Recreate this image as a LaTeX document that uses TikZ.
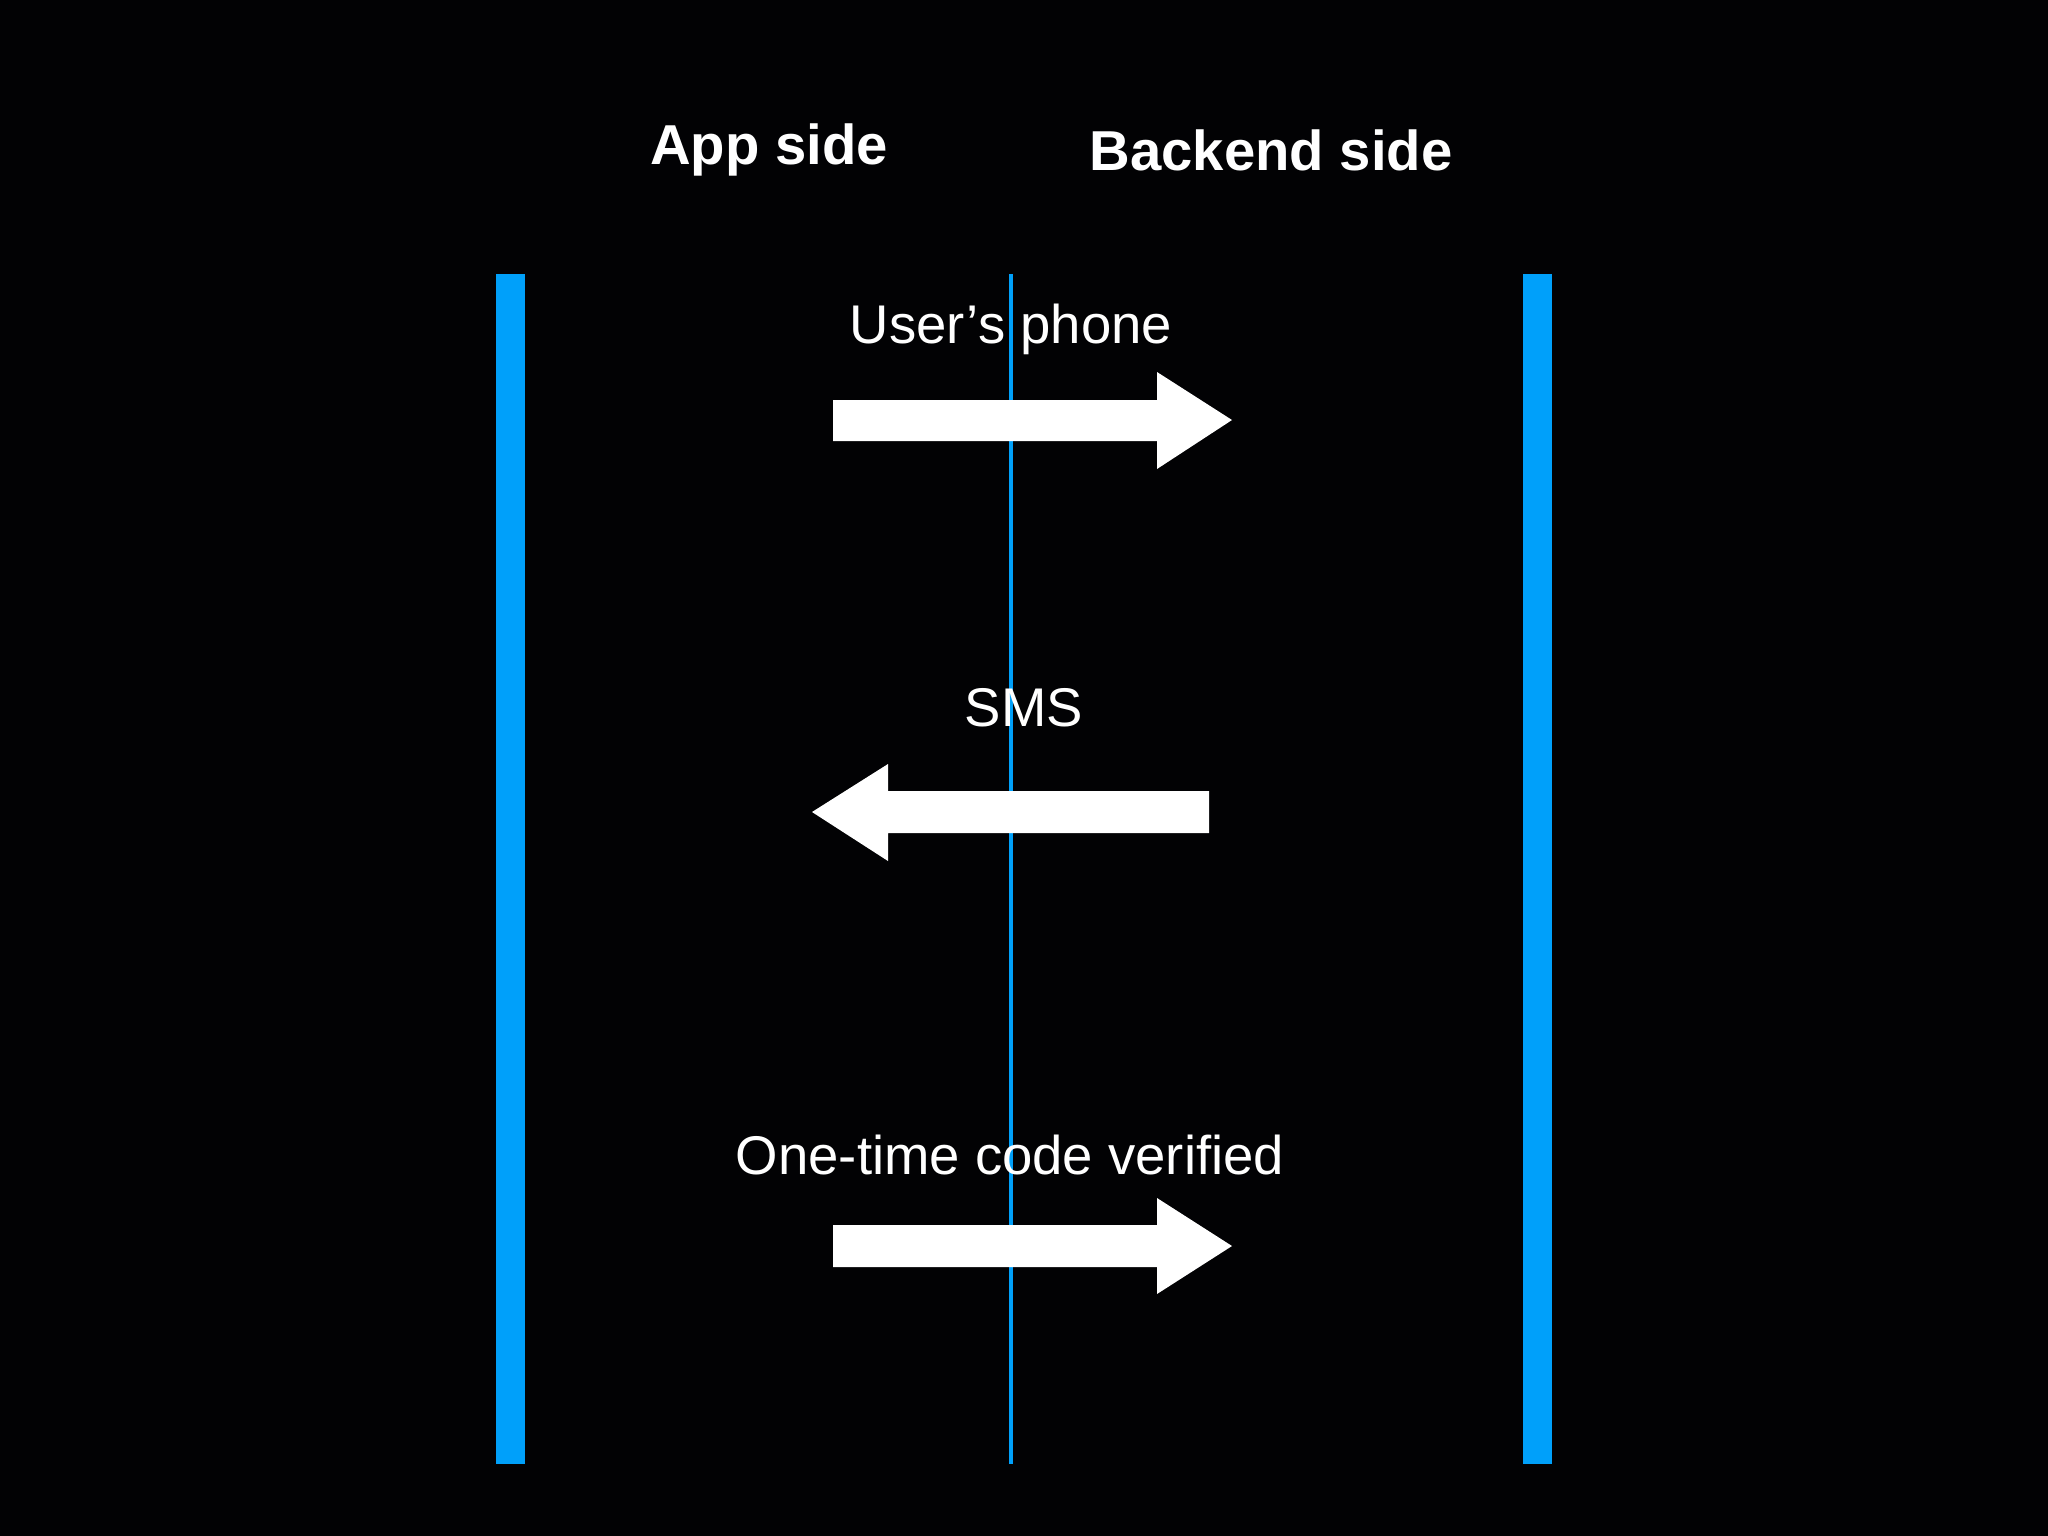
\documentclass[tikz,border=0pt]{standalone}
\usepackage{fontspec}
\setmainfont{Liberation Sans}
\definecolor{bar}{HTML}{00A0FA}
\definecolor{bg}{HTML}{020204}
\begin{document}
\begin{tikzpicture}[x=0.01cm,y=-0.01cm,
  lbl/.style={text=white,font=\fontsize{15.5}{18}\selectfont,inner sep=0},
  ttl/.style={text=white,font=\bfseries\fontsize{16}{19}\selectfont,inner sep=0},
  arr/.style={fill=white,draw=none}]
\fill[bg] (0,0) rectangle (2048,1536);
\useasboundingbox (0,0) rectangle (2048,1536);
\fill[bar] (496,274) rectangle (525,1464);
\fill[bar] (1523,274) rectangle (1552,1464);
\fill[bar] (1009,274) rectangle (1013,1464);
\node[ttl] (app) at (769,150) {App side};
\node[ttl] (be) at (1271,150) {Backend side};
\node[lbl] (l1) at (1011,329) {User’s phone};
\node[lbl] (l2) at (1024,708) {SMS};
\node[lbl] (l3) at (1010,1155) {One-time code verified};
\fill[arr] (833,400) -- (1157,400) -- (1157,372) -- (1232,420) -- (1157,469) -- (1157,441) -- (833,441) -- cycle;
\fill[arr] (1209,791) -- (888,791) -- (888,764) -- (812,812) -- (888,861) -- (888,833) -- (1209,833) -- cycle;
\fill[arr] (833,1225) -- (1157,1225) -- (1157,1198) -- (1232,1246) -- (1157,1294) -- (1157,1267) -- (833,1267) -- cycle;
\end{tikzpicture}
\end{document}
